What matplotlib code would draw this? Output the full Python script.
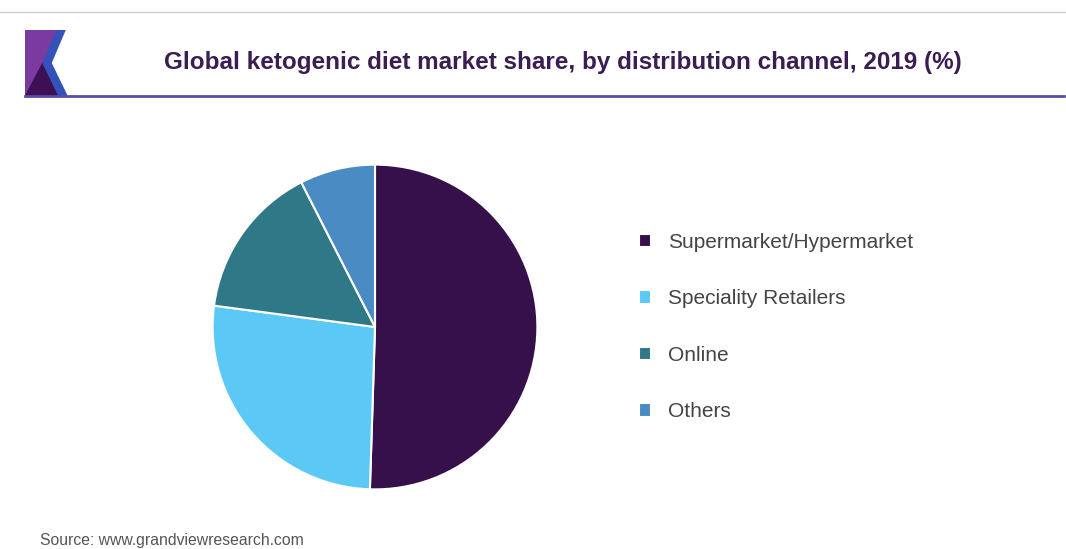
import matplotlib
matplotlib.use("Agg")
import matplotlib.pyplot as plt
from matplotlib.patches import Polygon
from matplotlib.lines import Line2D

plt.rcParams['font.family'] = ['Liberation Sans', 'DejaVu Sans']

# data
channels = ["Supermarket/Hypermarket", "Speciality Retailers", "Online", "Others"]
shares = [50.5, 26.6, 15.4, 7.5]
colors = ["#36104a", "#5bc8f5", "#2e7887", "#4a8bc3"]

title = "Global ketogenic diet market share, by distribution channel, 2019 (%)"
source = "Source: www.grandviewresearch.com"

W, H = 1066, 549
fig = plt.figure(figsize=(W / 100, H / 100), dpi=100)

# frame: thin grey rule at top, purple rule under the title
fig.add_artist(Line2D([0, 1], [1 - 12 / H, 1 - 12 / H], color="#cccccc", lw=1))
fig.add_artist(Line2D([25 / W, 1064 / W], [1 - 96 / H, 1 - 96 / H], color="#5d4aa6", lw=2))

# logo
logo = fig.add_axes([25 / W, 1 - 97 / H, 42 / W, 67 / H])
logo.set_xlim(0, 42)
logo.set_ylim(67, 0)
logo.axis("off")
logo.add_patch(Polygon([(0, 0), (32, 0), (18, 33), (0, 67)], color="#7a3aa0"))
logo.add_patch(Polygon([(0, 67), (18, 33), (34, 67)], color="#3d0f55"))
logo.add_patch(Polygon([(32, 0), (40, 0), (26, 33), (42, 66), (34, 66), (18, 33)], color="#3552b8"))

fig.text(563 / W, 1 - 62 / H, title, ha="center", va="center",
         fontsize=17.5, fontweight="bold", color="#3a1d52")

# pie
ax = fig.add_axes([211 / W, 58 / H, 328 / W, 328 / H])
wedges, _ = ax.pie(shares, colors=colors, startangle=90, counterclock=False,
                   radius=1, wedgeprops=dict(edgecolor="white", linewidth=1.5))
ax.set_xlim(-1.01, 1.01)
ax.set_ylim(-1.01, 1.01)
ax.set_aspect("equal")

fig.legend(wedges, channels, loc="upper left", bbox_to_anchor=(620 / W, 1 - 214 / H),
           frameon=False, fontsize=15, labelspacing=1.8, handlelength=0.6,
           handleheight=0.6, handletextpad=0.8, labelcolor="#444444")

fig.text(40 / W, 1 - 541 / H, source, ha="left", va="center", fontsize=11.3, color="#555555")

fig.savefig("out.png", dpi=100)
